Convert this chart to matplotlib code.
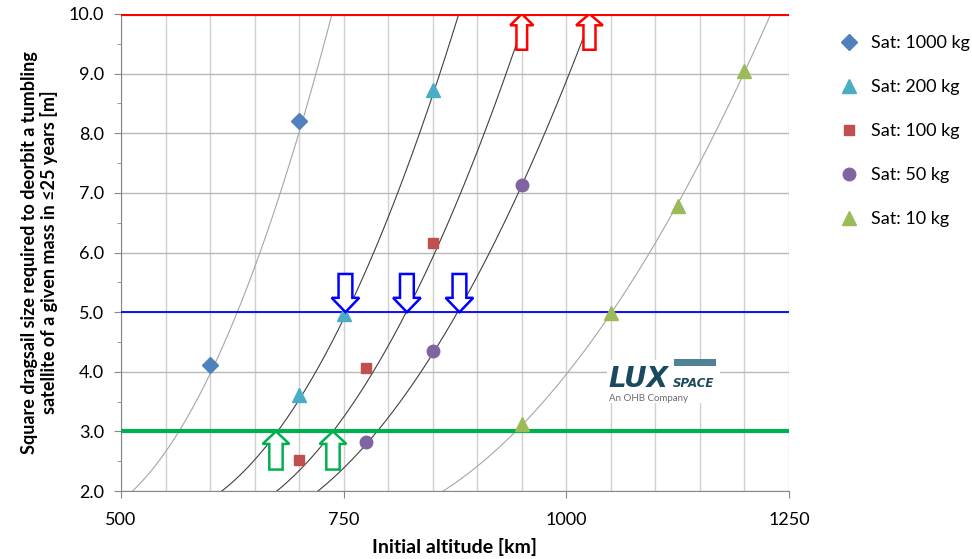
import numpy as np
import matplotlib.pyplot as plt
from matplotlib.patches import FancyArrow, Rectangle
from matplotlib.ticker import MultipleLocator

plt.rcParams['font.family'] = ['Lato', 'DejaVu Sans']

#%% Data
labels = ['Sat: 1000 kg', 'Sat: 200 kg', 'Sat: 100 kg', 'Sat: 50 kg', 'Sat: 10 kg']
colors = ['#4F81BD', '#4BACC6', '#C0504D', '#8064A2', '#9BBB59']
markers = ['D', '^', 's', 'o', '^']
msizes = [8, 10, 7, 9, 10]

alt_1000 = [600, 700]
size_1000 = [4.12, 8.21]
alt_200 = [700, 750, 850]
size_200 = [3.61, 4.97, 8.72]
alt_100 = [700, 775, 850]
size_100 = [2.52, 4.06, 6.16]
alt_50 = [775, 850, 950]
size_50 = [2.82, 4.34, 7.14]
alt_10 = [950, 1050, 1125, 1200]
size_10 = [3.12, 4.98, 6.78, 9.05]

# trend curves (altitude where each curve crosses sail size 2..10 m)
curve_sizes = [2, 3, 4, 5, 6, 7, 8, 9, 10]
curve_1000 = [516, 564, 599, 629, 657, 680, 702, 719, 735]
curve_200 = [616, 674, 718, 752, 784, 813, 836, 858, 878]
curve_100 = [675, 738, 783, 821, 852, 881, 908, 933, 955]
curve_50 = [722, 787, 836, 880, 912, 945, 978, 1004, 1028]
curve_10 = [865, 940, 1002, 1051, 1093, 1133, 1168, 1200, 1228]
curve_colors = ['#A6A6A6', '#404040', '#404040', '#404040', '#A6A6A6']

# reference sail sizes and arrows
limits = [10.0, 5.0, 3.0]
limit_colors = ['#FF0000', '#0000FF', '#00B050']
limit_widths = [3.0, 1.3, 3.0]
green_arrows = [674, 738]
blue_arrows = [752, 821, 880]
red_arrows = [950, 1026]

alts = [alt_1000, alt_200, alt_100, alt_50, alt_10]
sizes = [size_1000, size_200, size_100, size_50, size_10]
curves = [curve_1000, curve_200, curve_100, curve_50, curve_10]

#%% Plot
fig = plt.figure(figsize=(9.72, 5.59), dpi=100)
ax = fig.add_axes([0.1245, 0.1216, 0.6872, 0.8534])

# smooth trendline through the read crossing points (as the spreadsheet does)
for c, col in zip(curves, curve_colors):
    coef = np.polyfit(c, curve_sizes, 2)
    xs = np.linspace(c[0] - 5, c[-1] + 5, 200)
    ax.plot(xs, np.polyval(coef, xs), color=col, lw=0.8, zorder=3)

for y, col, lw in zip(limits, limit_colors, limit_widths):
    ax.axhline(y, color=col, lw=lw, zorder=4)

for a, s, m, ms, col, lab in zip(alts, sizes, markers, msizes, colors, labels):
    ax.plot(a, s, ls='none', marker=m, ms=ms, color=col, mec=col, label=lab, zorder=5)

def block_arrow(x, tail, tip, shaft, head, headlen, col):
    ax.add_patch(FancyArrow(x, tail, 0, tip - tail, width=shaft, head_width=head,
                            head_length=headlen, length_includes_head=True,
                            fc='white', ec=col, lw=1.8, zorder=6))

for x in green_arrows:
    block_arrow(x, 2.36, 3.0, 15, 30, 0.21, '#00B050')
for x in blue_arrows:
    block_arrow(x, 5.64, 5.0, 15.5, 31, 0.24, '#0000FF')
block_arrow(red_arrows[0], 9.40, 10.0, 12, 26, 0.19, '#FF0000')
block_arrow(red_arrows[1], 9.40, 10.0, 13.5, 30, 0.19, '#FF0000')

# logo
ax.add_patch(Rectangle((1046, 3.48), 126, 0.72, fc='white', ec='none', zorder=2))
ax.text(1047, 3.74, 'LUX', fontsize=20, fontweight='bold', style='italic',
        family='DejaVu Sans', color='#1B4A5E', zorder=3)
ax.text(1120, 3.74, 'SPACE', fontsize=8.5, fontweight='bold', style='italic',
        family='DejaVu Sans', color='#1B4A5E', zorder=3)
ax.add_patch(Rectangle((1121, 4.09), 47, 0.12, fc='#4E8294', ec='none', zorder=3))
ax.text(1048, 3.56, 'An OHB Company', fontsize=7, color='#6B6B6B', va='center', zorder=3)

ax.set_xlim(500, 1250)
ax.set_ylim(2, 10)
ax.xaxis.set_major_locator(MultipleLocator(250))
ax.xaxis.set_minor_locator(MultipleLocator(50))
ax.yaxis.set_major_locator(MultipleLocator(1))
ax.yaxis.set_minor_locator(MultipleLocator(0.5))
ax.yaxis.set_major_formatter('{x:.1f}')
ax.grid(which='minor', axis='x', color='#D0D0D0', lw=1)
ax.grid(which='major', axis='x', color='#D0D0D0', lw=1)
ax.grid(which='major', axis='y', color='#B8B8B8', lw=1)
ax.set_axisbelow(True)
for side in ['top', 'right']:
    ax.spines[side].set_visible(False)
for side in ['left', 'bottom']:
    ax.spines[side].set_color('#868686')
ax.tick_params(axis='x', which='major', length=5, color='#868686', labelsize=13, pad=10)
ax.tick_params(axis='x', which='minor', length=0)
ax.tick_params(axis='y', which='major', length=5, color='#868686', labelsize=13, pad=7)
ax.tick_params(axis='y', which='minor', length=3, color='#868686')

ax.set_xlabel('Initial altitude [km]', fontsize=14, fontweight='bold')
ax.xaxis.set_label_coords(0.5, -0.098)
ax.set_ylabel('Square dragsail size required to deorbit a tumbling\n'
              'satellite of a given mass in \u226425 years [m]',
              fontsize=13, fontweight='bold', linespacing=1.15)
ax.yaxis.set_label_coords(-0.094, 0.5)

ax.legend(loc='upper left', bbox_to_anchor=(1.05, 0.99), frameon=False, fontsize=13,
          labelspacing=1.55, handletextpad=0.6, handlelength=1.2)

fig.savefig('out.png', dpi=100)
